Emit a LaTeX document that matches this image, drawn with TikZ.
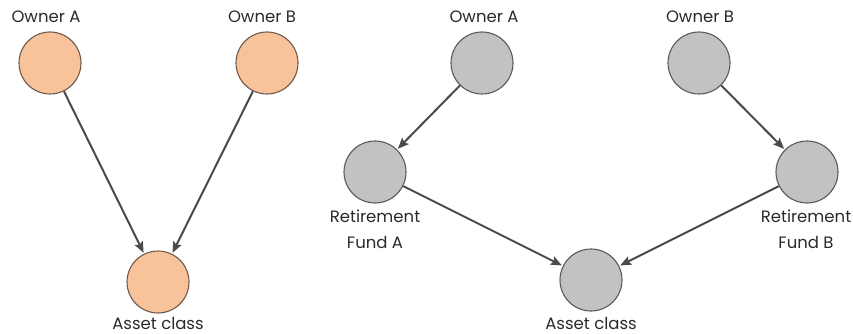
\documentclass[tikz,border=0pt]{standalone}
\usepackage{fontspec}
\setmainfont{Poppins}
\usetikzlibrary{arrows.meta}
\definecolor{orangefill}{HTML}{F8C29A}
\definecolor{orangeline}{HTML}{6E5A4C}
\definecolor{grayfill}{HTML}{C2C2C2}
\definecolor{grayline}{HTML}{5A5A5A}
\definecolor{arrowcol}{HTML}{4A4A4A}
\definecolor{textcol}{HTML}{2A2A2A}
\tikzset{
  orangenode/.style={circle, draw=orangeline, fill=orangefill, line width=1.1pt, minimum size=62pt, inner sep=0pt},
  graynode/.style={circle, draw=grayline, fill=grayfill, line width=1.1pt, minimum size=62pt, inner sep=0pt},
  lbl/.style={text=textcol, font=\fontsize{16.5}{21}\selectfont, align=center, inner sep=0pt},
  conn/.style={draw=arrowcol, line width=2pt, -{Stealth[length=11pt, width=9pt, inset=2pt]}, shorten >=1pt}
}
\begin{document}
\begin{tikzpicture}[x=1pt, y=-1pt]
\useasboundingbox (0,0) rectangle (853,334);
% left diagram
\node[orangenode] (lA) at (50,63) {};
\node[orangenode] (lB) at (267,63) {};
\node[orangenode] (lC) at (158,282) {};
\node[lbl] (lAt) at (46,17) {Owner A};
\node[lbl] (lBt) at (262,17) {Owner B};
\node[lbl] (lCt) at (158,323) {Asset class};
\draw[conn] (lA) -- (lC);
\draw[conn] (lB) -- (lC);
% right diagram
\node[graynode] (rA) at (482,63) {};
\node[graynode] (rB) at (699,63) {};
\node[graynode] (fA) at (375,172) {};
\node[graynode] (fB) at (807,172) {};
\node[graynode] (rC) at (591,280) {};
\node[lbl] (rAt) at (484,17) {Owner A};
\node[lbl] (rBt) at (700,17) {Owner B};
\node[lbl] (fAt) at (375,229) {Retirement\\[5pt]Fund A};
\node[lbl] (fBt) at (806,229) {Retirement\\[5pt]Fund B};
\node[lbl] (rCt) at (591,323) {Asset class};
\draw[conn] (rA) -- (fA);
\draw[conn] (rB) -- (fB);
\draw[conn] (fA) -- (rC);
\draw[conn] (fB) -- (rC);
\end{tikzpicture}
\end{document}
